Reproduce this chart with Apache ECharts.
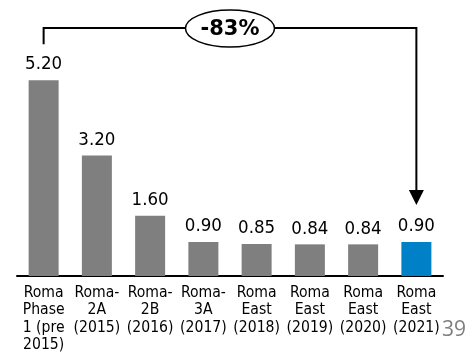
<!DOCTYPE html>
<html>
<head>
<meta charset="utf-8">
<style>
  html, body { margin: 0; padding: 0; background: #ffffff; }
  #chart { width: 474px; height: 357px; }
</style>
<script src="https://cdn.jsdelivr.net/npm/echarts@6/dist/echarts.min.js"></script>
</head>
<body>
<div id="chart"></div>
<script>
// Project phases along the x axis
const categories = [
  'Roma\nPhase\n1 (pre\n2015)',
  'Roma-\n2A\n(2015)',
  'Roma-\n2B\n(2016)',
  'Roma-\n3A\n(2017)',
  'Roma\nEast\n(2018)',
  'Roma\nEast\n(2019)',
  'Roma\nEast\n(2020)',
  'Roma\nEast\n(2021)'
];
// Value per phase
const values = [5.20, 3.20, 1.60, 0.90, 0.85, 0.84, 0.84, 0.90];
// Change from first to last phase
const changeLabel = '-83%';
const pageNumber = '39';

const GRAY = '#7f7f7f';
const BLUE = '#0080c6';
const FONT = '"DejaVu Sans Condensed", "DejaVu Sans", sans-serif';

const chart = echarts.init(document.getElementById('chart'), null, { renderer: 'canvas' });

chart.setOption({
  animation: false,
  grid: { left: 17, right: 31, top: 50, bottom: 81, containLabel: false },
  xAxis: {
    type: 'category',
    data: categories,
    axisLine: { show: true, lineStyle: { color: '#000', width: 2 } },
    axisTick: { show: false },
    axisLabel: {
      interval: 0,
      margin: 8,
      color: '#000',
      fontFamily: FONT,
      fontSize: 15.6,
      lineHeight: 17.5
    }
  },
  yAxis: {
    type: 'value',
    min: 0,
    max: 6,
    show: false,
    splitLine: { show: false }
  },
  series: [{
    type: 'bar',
    barWidth: 30,
    data: values.map((v, i) => ({
      value: v,
      itemStyle: { color: i === values.length - 1 ? BLUE : GRAY }
    })),
    label: {
      show: true,
      position: 'top',
      distance: 6,
      color: '#000',
      fontFamily: FONT,
      fontSize: 18.5,
      formatter: p => p.value.toFixed(2)
    }
  }]
});

// Bracket from the first bar to the last bar, with the change badge
const first = chart.convertToPixel({ seriesIndex: 0 }, [0, values[0]]);
const last = chart.convertToPixel({ seriesIndex: 0 }, [values.length - 1, values[values.length - 1]]);
const topY = 28;
const leftEnd = first[1] - 36;
const tipY = last[1] - 37;
const headLen = 15;
const headHalf = 7.5;
const midX = (first[0] + last[0]) / 2;
const lineStyle = { stroke: '#000', lineWidth: 2, fill: null };

chart.setOption({
  graphic: [
    {
      type: 'polyline',
      shape: { points: [[first[0], leftEnd], [first[0], topY], [last[0], topY], [last[0], tipY - headLen]] },
      style: lineStyle,
      z: 10
    },
    {
      type: 'polygon',
      shape: { points: [[last[0] - headHalf, tipY - headLen], [last[0] + headHalf, tipY - headLen], [last[0], tipY]] },
      style: { fill: '#000' },
      z: 10
    },
    {
      type: 'ellipse',
      shape: { cx: midX, cy: topY + 0.5, rx: 44.5, ry: 18.5 },
      style: { fill: '#fff', stroke: '#000', lineWidth: 1.5 },
      z: 11
    },
    {
      type: 'text',
      x: midX,
      y: topY + 2,
      style: {
        text: changeLabel,
        fill: '#000',
        font: 'bold 21px "DejaVu Sans", sans-serif',
        align: 'center',
        verticalAlign: 'middle'
      },
      z: 12
    },
    {
      type: 'text',
      x: 454,
      y: 330,
      style: {
        text: pageNumber,
        fill: '#7f7f7f',
        font: '21px "Open Sans", sans-serif',
        align: 'center',
        verticalAlign: 'middle'
      },
      z: 12
    }
  ]
});
</script>
</body>
</html>
